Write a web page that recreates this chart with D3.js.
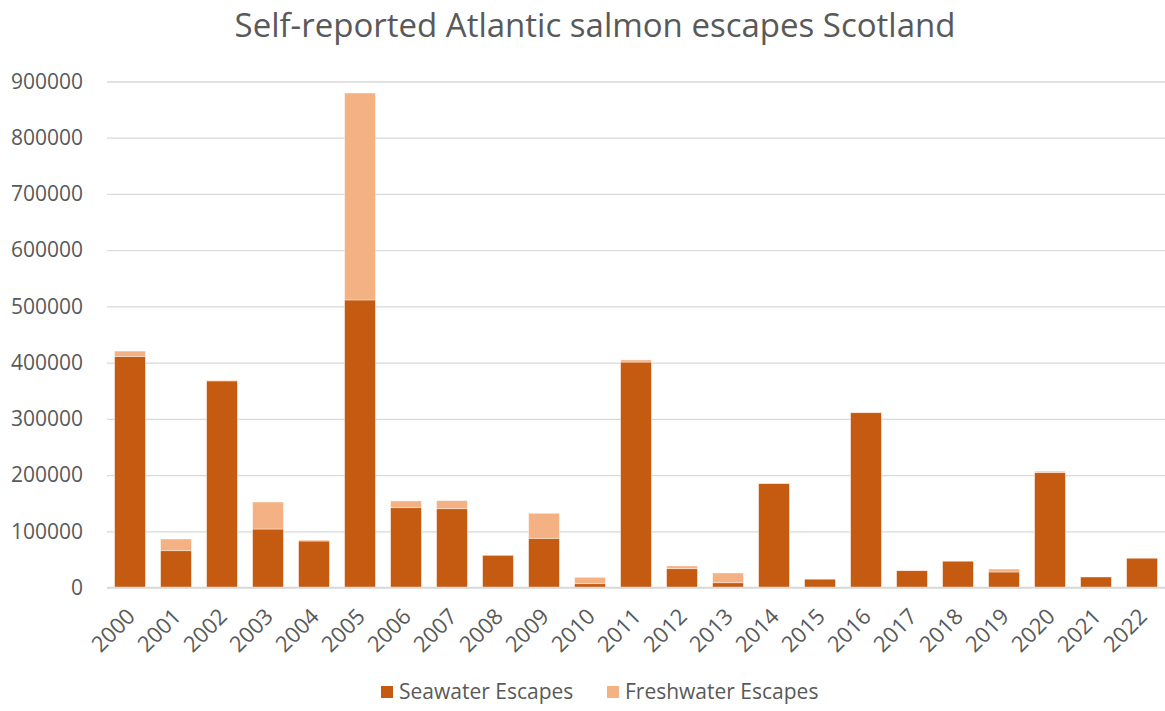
<!DOCTYPE html>
<html>
<head>
<meta charset="utf-8">
<script src="https://cdn.jsdelivr.net/npm/d3@7"></script>
<style>
  html, body { margin: 0; padding: 0; background: #ffffff; }
  svg { display: block; }
</style>
</head>
<body>
<svg id="chart" width="1165" height="711"></svg>
<script>
// Escaped fish per year, split by where the escape happened
const years = ["2000","2001","2002","2003","2004","2005","2006","2007","2008","2009","2010","2011",
               "2012","2013","2014","2015","2016","2017","2018","2019","2020","2021","2022"];
const seawater = [411000, 65500, 367500, 104000, 82700, 511500, 142000, 140200, 57500, 87500, 6800, 401000,
                  33500, 8500, 185000, 15000, 311000, 30000, 47000, 27600, 204300, 18700, 52300];
const freshwater = [9500, 20800, 1000, 48000, 1700, 368000, 12000, 14300, 300, 44500, 11300, 3800,
                    4800, 17300, 400, 100, 700, 600, 200, 5300, 2500, 0, 200];
const yTicks = [0, 100000, 200000, 300000, 400000, 500000, 600000, 700000, 800000, 900000];
const seriesNames = ["Seawater Escapes", "Freshwater Escapes"];
const seriesColors = ["#C55A11", "#F4B183"];

const svg = d3.select("#chart");
const margin = { left: 107, top: 81.5, bottom: 587.5 };
const plotRight = 1165;

const x = d3.scaleBand().domain(years).range([margin.left, plotRight]).paddingInner(0.33).paddingOuter(0.165);
const y = d3.scaleLinear().domain([0, 900000]).range([margin.bottom, margin.top]);

const textColor = "#595959";
const font = "'Open Sans', 'DejaVu Sans', sans-serif";

// Title
svg.append("text")
  .attr("x", 595).attr("y", 37)
  .attr("text-anchor", "middle")
  .attr("font-family", font).attr("font-size", 33).attr("font-weight", 400)
  .attr("fill", textColor)
  .text("Self-reported Atlantic salmon escapes Scotland");

// Horizontal gridlines and value labels
const yAxis = d3.axisLeft(y).tickValues(yTicks).tickFormat(d3.format("d"))
  .tickSize(-(plotRight - margin.left)).tickPadding(24);
const gy = svg.append("g").attr("transform", `translate(${margin.left},0)`).call(yAxis);
gy.select(".domain").remove();
gy.selectAll(".tick line").attr("stroke", "#D9D9D9").attr("stroke-width", 1.3);
gy.selectAll(".tick text").attr("font-family", font).attr("font-size", 21).attr("fill", textColor);

// Stacked bars
const rows = years.map((yr, i) => ({ year: yr, sea: seawater[i], fresh: freshwater[i] }));
const stack = d3.stack().keys(["sea", "fresh"])(rows);
svg.append("g").selectAll("g").data(stack).join("g")
  .attr("fill", (d, i) => seriesColors[i])
  .selectAll("rect").data(d => d).join("rect")
  .attr("x", d => x(d.data.year))
  .attr("width", x.bandwidth())
  .attr("y", d => y(d[1]))
  .attr("height", d => Math.max(0, y(d[0]) - y(d[1])))
  .attr("stroke", "#ffffff").attr("stroke-opacity", 0.5).attr("stroke-width", 0.8);

// Baseline
svg.append("line")
  .attr("x1", margin.left).attr("x2", plotRight)
  .attr("y1", y(0)).attr("y2", y(0))
  .attr("stroke", "#D9D9D9").attr("stroke-width", 1.3);

// Category labels, rotated
const gx = svg.append("g").attr("transform", `translate(0,${y(0)})`)
  .call(d3.axisBottom(x).tickSize(0).tickPadding(0));
gx.select(".domain").remove();
gx.selectAll(".tick text")
  .attr("font-family", font).attr("font-size", 22).attr("fill", textColor)
  .attr("text-anchor", "end")
  .attr("dy", "0.35em")
  .attr("transform", "translate(1,25) rotate(-45)");

// Legend
const legend = svg.append("g").attr("transform", "translate(0,692)");
const legendX = [381, 607];
seriesNames.forEach((name, i) => {
  const g = legend.append("g").attr("transform", `translate(${legendX[i]},0)`);
  g.append("rect").attr("x", 0).attr("y", -6).attr("width", 12).attr("height", 12).attr("fill", seriesColors[i]);
  g.append("text").attr("x", 18).attr("y", 0).attr("dy", "0.35em")
    .attr("font-family", font).attr("font-size", 21).attr("fill", textColor)
    .text(name);
});
</script>
</body>
</html>
